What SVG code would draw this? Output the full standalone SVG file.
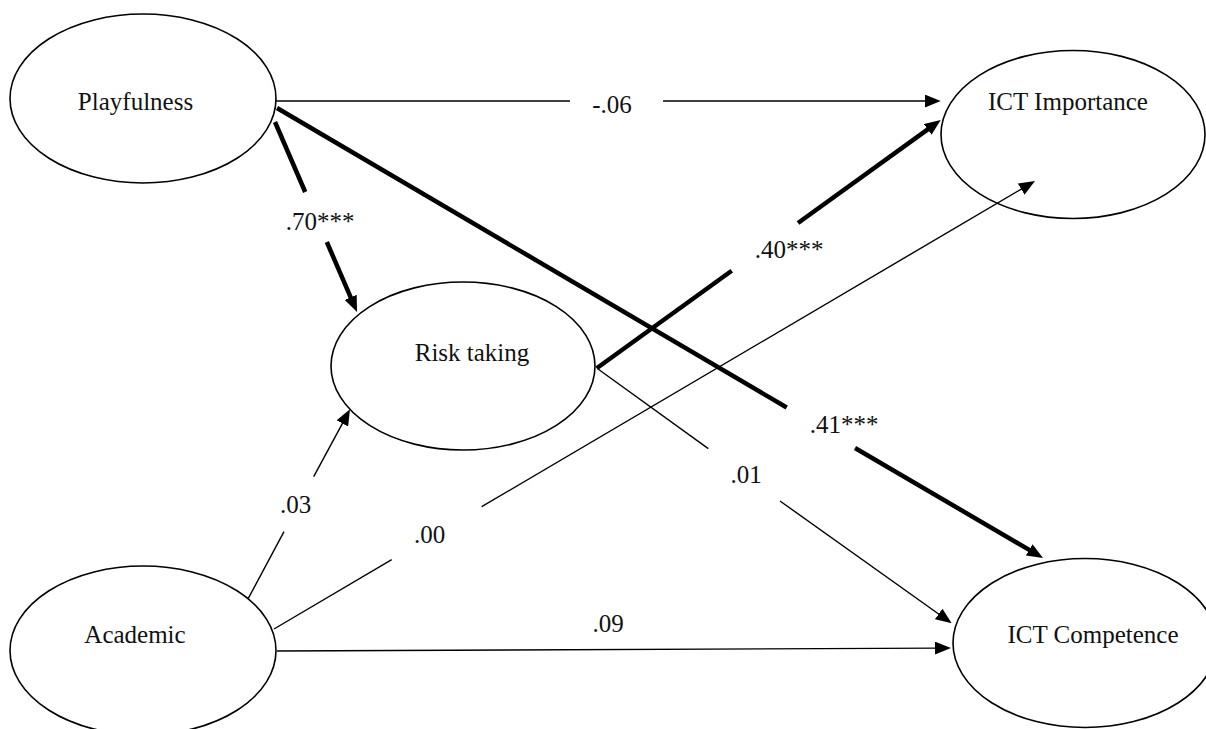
<svg xmlns="http://www.w3.org/2000/svg" width="1206" height="729" viewBox="0 0 1206 729">
<style>
  .node ellipse { fill: #ffffff; stroke: #000000; stroke-width: 1.6; }
  .node text { font-family: "Liberation Serif", "Times New Roman", "DejaVu Serif", serif; font-size: 25px; fill: #111111; text-anchor: middle; }
  .thin { stroke: #000000; stroke-width: 1.4; fill: none; }
  .thick { stroke: #000000; stroke-width: 4.5; fill: none; }
  .lbl { font-family: "Liberation Serif", "Times New Roman", "DejaVu Serif", serif; font-size: 25px; fill: #111111; text-anchor: middle; }
</style>
<defs>
  <marker id="arrow" markerUnits="userSpaceOnUse" markerWidth="16" markerHeight="13" refX="3" refY="6.5" orient="auto">
    <path d="M0,0 L16,6.5 L0,13 z" fill="#000000"/>
  </marker>
</defs>
<rect x="0" y="0" width="1206" height="729" fill="#ffffff"/>
<g id="playfulness" class="node">
  <ellipse cx="143" cy="98.5" rx="133" ry="84.5"/>
  <text x="135.5" y="110">Playfulness</text>
</g>
<g id="ict-importance" class="node">
  <ellipse cx="1073" cy="134.5" rx="132" ry="84"/>
  <text x="1068" y="110">ICT Importance</text>
</g>
<g id="risk-taking" class="node">
  <ellipse cx="463" cy="366" rx="132" ry="84"/>
  <text x="472" y="361">Risk taking</text>
</g>
<g id="academic" class="node">
  <ellipse cx="143" cy="650.5" rx="133" ry="84.5"/>
  <text x="135" y="643">Academic</text>
</g>
<g id="ict-competence" class="node">
  <ellipse cx="1085" cy="643" rx="132" ry="84.5"/>
  <text x="1093" y="643">ICT Competence</text>
</g>
<g id="connectors">
  <!-- Playfulness -> ICT Importance -->
  <line class="thin" x1="276" y1="101" x2="570" y2="101"/>
  <line class="thin" x1="663" y1="101" x2="927.7" y2="101" marker-end="url(#arrow)"/>
  <!-- Playfulness -> Risk taking -->
  <line class="thick" x1="275" y1="122" x2="305.2" y2="192"/>
  <line class="thick" x1="326.8" y1="242" x2="351.9" y2="300.1" marker-end="url(#arrow)"/>
  <!-- Playfulness -> ICT Competence -->
  <line class="thick" x1="277" y1="108" x2="786.7" y2="407.5"/>
  <line class="thick" x1="855" y1="448" x2="1031.8" y2="551.4" marker-end="url(#arrow)"/>
  <!-- Risk taking -> ICT Importance -->
  <line class="thick" x1="596.7" y1="368.3" x2="731.7" y2="270.8"/>
  <line class="thick" x1="798" y1="223" x2="930.2" y2="127.6" marker-end="url(#arrow)"/>
  <!-- Risk taking -> ICT Competence -->
  <line class="thin" x1="598" y1="369" x2="708.3" y2="448.6"/>
  <line class="thin" x1="780" y1="501" x2="941.1" y2="615.7" marker-end="url(#arrow)"/>
  <!-- Academic -> Risk taking -->
  <line class="thin" x1="248.3" y1="598.3" x2="284" y2="531.7"/>
  <line class="thin" x1="313.7" y1="476.7" x2="343.8" y2="420.8" marker-end="url(#arrow)"/>
  <!-- Academic -> ICT Importance -->
  <line class="thin" x1="274" y1="629" x2="391.7" y2="559.7"/>
  <line class="thin" x1="481.7" y1="506.7" x2="1023.8" y2="187.6" marker-end="url(#arrow)"/>
  <!-- Academic -> ICT Competence -->
  <line class="thin" x1="277" y1="651" x2="938" y2="648.1" marker-end="url(#arrow)"/>
  <text class="lbl" x="612" y="113">-.06</text>
  <text class="lbl" x="320" y="230">.70***</text>
  <text class="lbl" x="789" y="258">.40***</text>
  <text class="lbl" x="844" y="433">.41***</text>
  <text class="lbl" x="746" y="483">.01</text>
  <text class="lbl" x="295.5" y="513">.03</text>
  <text class="lbl" x="429.5" y="543">.00</text>
  <text class="lbl" x="608" y="632">.09</text>
</g>
</svg>
